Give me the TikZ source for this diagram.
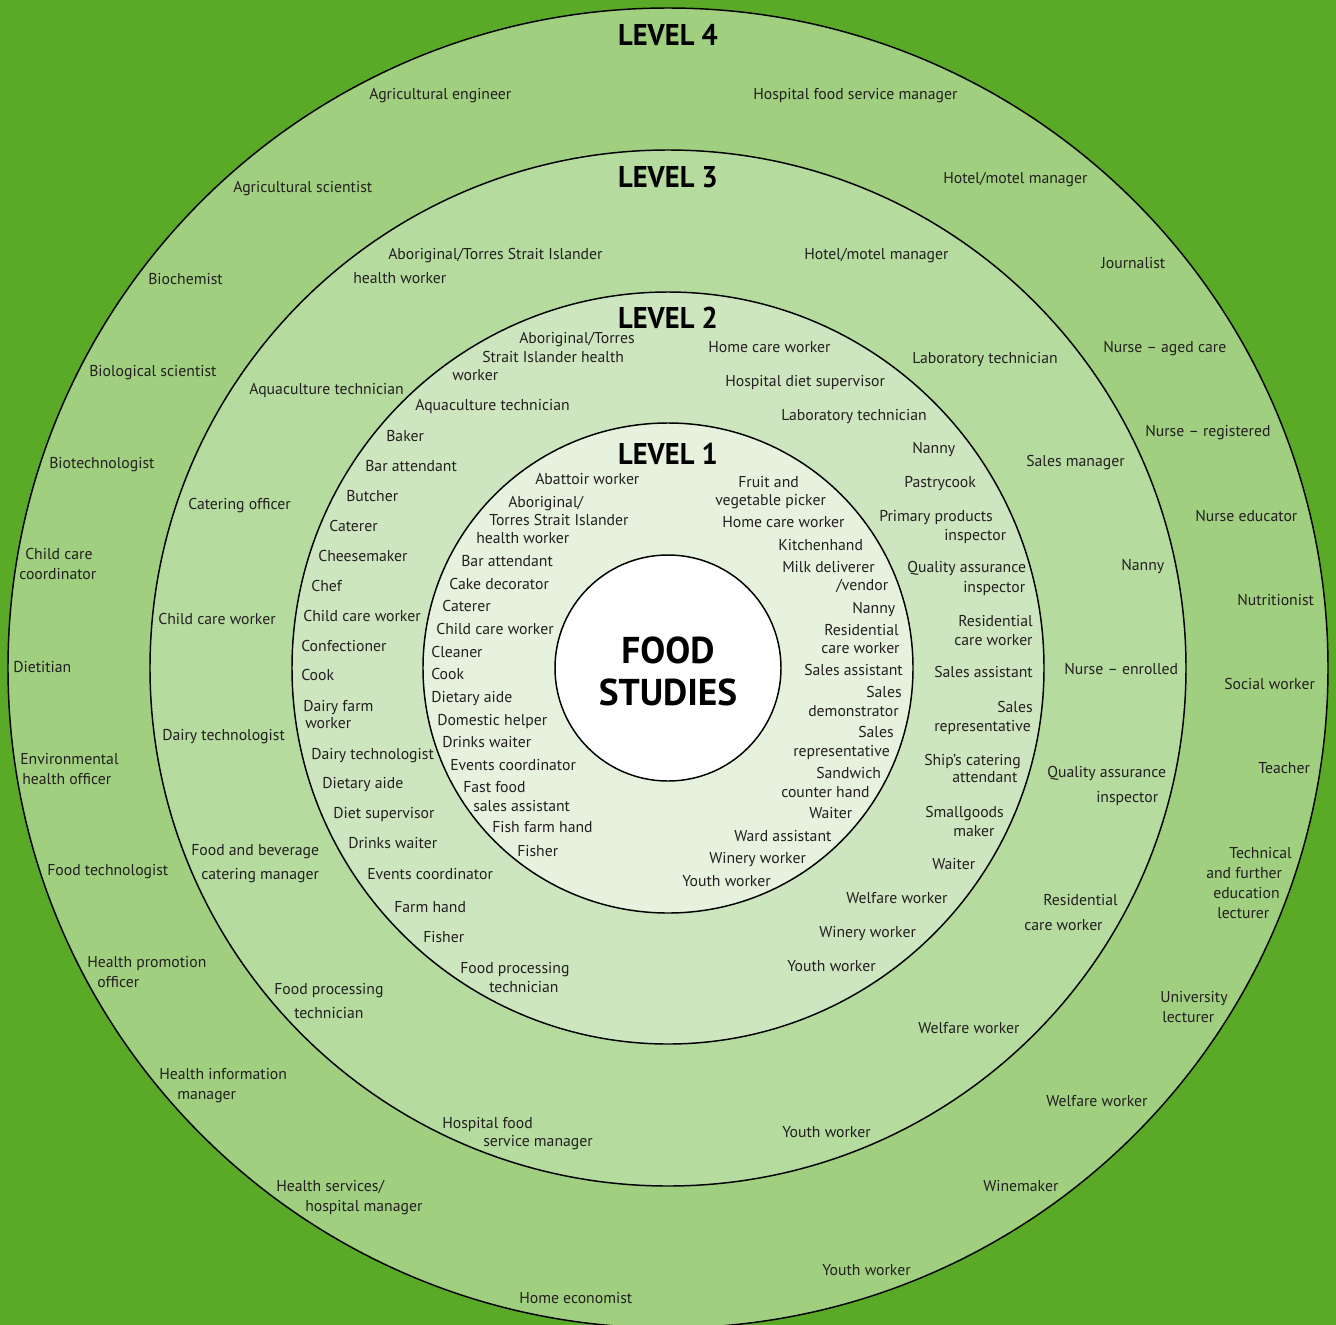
\documentclass[tikz,border=0pt]{standalone}
\usepackage{fontspec}
\setmainfont{PT Sans}
\definecolor{bgc}{HTML}{5AAA28}
\definecolor{lfour}{HTML}{A0CF7F}
\definecolor{lthree}{HTML}{B5DB9F}
\definecolor{ltwo}{HTML}{CEE6BF}
\definecolor{lone}{HTML}{E6F2DD}
\definecolor{txt}{HTML}{231F20}
\newcounter{lbl}
\tikzset{
  lab/.style={inner sep=0pt, text=txt, font=\fontsize{11.8pt}{13pt}\selectfont, yshift=-3pt},
  ring/.style={draw=black, line width=1.1pt},
  ttl/.style={inner sep=0pt, text=black, font=\fontsize{22.5pt}{24pt}\selectfont\bfseries},
  bigttl/.style={inner sep=0pt, text=black, font=\fontsize{28pt}{30pt}\selectfont\bfseries}
}
\newcommand\lbw[3]{\stepcounter{lbl}\node[lab,anchor=base west] (lb\arabic{lbl}) at (#1,#2) {#3};}
\begin{document}
\begin{tikzpicture}[x=0.75pt,y=-0.75pt]
\useasboundingbox (0,0) rectangle (1336,1325);
\fill[bgc] (0,0) rectangle (1336,1325);
\coordinate (c) at (668,668);
\fill[lfour, ring] (c) circle[radius=495pt];
\fill[lthree, ring] (c) circle[radius=388.5pt];
\fill[ltwo, ring] (c) circle[radius=282pt];
\fill[lone, ring] (c) circle[radius=183.75pt];
\fill[white, ring] (c) circle[radius=84.75pt];
% titles
\node[ttl] (t4) at (668,35) {\scalebox{0.95}[1]{LEVEL 4}};
\node[ttl] (t3) at (668,177) {\scalebox{0.95}[1]{LEVEL 3}};
\node[ttl] (t2) at (668,318) {\scalebox{0.95}[1]{LEVEL 2}};
\node[ttl] (t1) at (668,454) {\scalebox{0.95}[1]{LEVEL 1}};
\node[bigttl] (food) at (668,650) {FOOD};
\node[bigttl] (studies) at (668,692) {STUDIES};
% ---- level 4
\lbw{369}{95}{Agricultural engineer}
\lbw{753}{95}{Hospital food service manager}
\lbw{233}{188}{Agricultural scientist}
\lbw{943}{179}{Hotel/motel manager}
\lbw{148}{280}{Biochemist}
\lbw{1101}{264}{Journalist}
\lbw{89}{372}{Biological scientist}
\lbw{1103}{348}{Nurse – aged care}
\lbw{1145}{432}{Nurse – registered}
\lbw{49}{464}{Biotechnologist}
\lbw{1195}{517}{Nurse educator}
\lbw{25}{555}{Child care}
\lbw{19}{575}{coordinator}
\lbw{1237}{601}{Nutritionist}
\lbw{13}{668}{Dietitian}
\lbw{1224}{685}{Social worker}
\lbw{20}{760}{Environmental}
\lbw{22}{780}{health officer}
\lbw{1258}{769}{Teacher}
\lbw{47}{871}{Food technologist}
\lbw{1229}{854}{Technical}
\lbw{1206}{874}{and further}
\lbw{1213}{894}{education}
\lbw{1217}{914}{lecturer}
\lbw{87}{963}{Health promotion}
\lbw{97}{983}{officer}
\lbw{1160}{998}{University}
\lbw{1162}{1018}{lecturer}
\lbw{159}{1075}{Health information}
\lbw{177}{1095}{manager}
\lbw{1046}{1102}{Welfare worker}
\lbw{276}{1187}{Health services/}
\lbw{305}{1207}{hospital manager}
\lbw{983}{1187}{Winemaker}
\lbw{822}{1271}{Youth worker}
\lbw{519}{1299}{Home economist}
% ---- level 3
\lbw{388}{255}{Aboriginal/Torres Strait Islander}
\lbw{353}{279}{health worker}
\lbw{804}{255}{Hotel/motel manager}
\lbw{249}{390}{Aquaculture technician}
\lbw{912}{359}{Laboratory technician}
\lbw{188}{505}{Catering officer}
\lbw{1026}{462}{Sales manager}
\lbw{158}{620}{Child care worker}
\lbw{1121}{566}{Nanny}
\lbw{162}{736}{Dairy technologist}
\lbw{1064}{670}{Nurse – enrolled}
\lbw{191}{851}{Food and beverage}
\lbw{201}{875}{catering manager}
\lbw{1047}{773}{Quality assurance}
\lbw{1096}{798}{inspector}
\lbw{274}{990}{Food processing}
\lbw{294}{1014}{technician}
\lbw{1043}{901}{Residential}
\lbw{1024}{926}{care worker}
\lbw{442}{1124}{Hospital food}
\lbw{483}{1142}{service manager}
\lbw{782}{1133}{Youth worker}
\lbw{918}{1029}{Welfare worker}
% ---- level 2
\lbw{519}{339}{Aboriginal/Torres}
\lbw{482}{358}{Strait Islander health}
\lbw{452}{376}{worker}
\lbw{415}{406}{Aquaculture technician}
\lbw{386}{437}{Baker}
\lbw{365}{467}{Bar attendant}
\lbw{346}{497}{Butcher}
\lbw{329}{527}{Caterer}
\lbw{318}{557}{Cheesemaker}
\lbw{311}{587}{Chef}
\lbw{303}{617}{Child care worker}
\lbw{301}{647}{Confectioner}
\lbw{301}{676}{Cook}
\lbw{303}{707}{Dairy farm}
\lbw{305}{724}{worker}
\lbw{311}{755}{Dairy technologist}
\lbw{322}{784}{Dietary aide}
\lbw{333}{814}{Diet supervisor}
\lbw{348}{844}{Drinks waiter}
\lbw{367}{875}{Events coordinator}
\lbw{394}{908}{Farm hand}
\lbw{423}{938}{Fisher}
\lbw{460}{969}{Food processing}
\lbw{489}{988}{technician}
\lbw{708}{348}{Home care worker}
\lbw{725}{382}{Hospital diet supervisor}
\lbw{781}{416}{Laboratory technician}
\lbw{912}{449}{Nanny}
\lbw{904}{483}{Pastrycook}
\lbw{879}{517}{Primary products}
\lbw{944}{536}{inspector}
\lbw{907}{568}{Quality assurance}
\lbw{963}{588}{inspector}
\lbw{958}{622}{Residential}
\lbw{954}{641}{care worker}
\lbw{934}{673}{Sales assistant}
\lbw{997}{708}{Sales}
\lbw{934}{727}{representative}
\lbw{924}{761}{Ship’s catering}
\lbw{952}{778}{attendant}
\lbw{925}{813}{Smallgoods}
\lbw{953}{832}{maker}
\lbw{932}{865}{Waiter}
\lbw{846}{899}{Welfare worker}
\lbw{819}{933}{Winery worker}
\lbw{787}{967}{Youth worker}
% ---- level 1
\lbw{535}{480}{Abattoir worker}
\lbw{508}{503}{Aboriginal/}
\lbw{489}{521}{Torres Strait Islander}
\lbw{476}{539}{health worker}
\lbw{461}{562}{Bar attendant}
\lbw{449}{585}{Cake decorator}
\lbw{442}{607}{Caterer}
\lbw{436}{630}{Child care worker}
\lbw{431}{653}{Cleaner}
\lbw{431}{675}{Cook}
\lbw{431}{698}{Dietary aide}
\lbw{437}{721}{Domestic helper}
\lbw{442}{743}{Drinks waiter}
\lbw{450}{766}{Events coordinator}
\lbw{463}{788}{Fast food}
\lbw{473}{807}{sales assistant}
\lbw{492}{828}{Fish farm hand}
\lbw{517}{852}{Fisher}
\lbw{738}{483}{Fruit and}
\lbw{715}{501}{vegetable picker}
\lbw{722}{523}{Home care worker}
\lbw{778}{546}{Kitchenhand}
\lbw{782}{568}{Milk deliverer}
\lbw{836}{586}{/vendor}
\lbw{852}{609}{Nanny}
\lbw{824}{631}{Residential}
\lbw{821}{649}{care worker}
\lbw{804}{671}{Sales assistant}
\lbw{866}{693}{Sales}
\lbw{808}{712}{demonstrator}
\lbw{858}{733}{Sales}
\lbw{793}{752}{representative}
\lbw{816}{774}{Sandwich}
\lbw{781}{793}{counter hand}
\lbw{809}{814}{Waiter}
\lbw{734}{837}{Ward assistant}
\lbw{709}{859}{Winery worker}
\lbw{682}{882}{Youth worker}
\end{tikzpicture}
\end{document}
